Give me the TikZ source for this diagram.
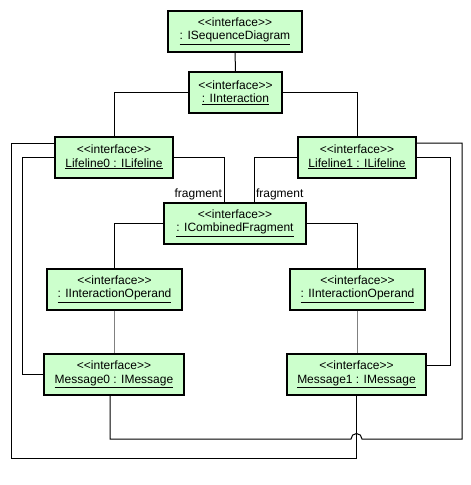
\documentclass[tikz,border=0pt]{standalone}
\usepackage{fontspec}
\setmainfont{Liberation Sans}
\usepackage{tikz}
\usetikzlibrary{positioning}
\definecolor{objgreen}{RGB}{204,255,204}
\definecolor{opgray}{RGB}{128,128,128}
\newcommand{\iface}[1]{<\kern0pt<interface>\kern0pt>\\\underline{#1}}

\begin{document}
\begin{tikzpicture}[
    x=1pt, y=-1pt,
    font=\fontsize{12}{13.5}\selectfont,
    objbox/.style={draw, line width=2pt, fill=objgreen, align=center, minimum height=41pt, inner sep=2pt},
    link/.style={draw, line width=1pt},
    oplink/.style={draw, line width=1pt, opgray},
    rolelabel/.style={inner sep=1.5pt}
]
\useasboundingbox (0,0) rectangle (471,485);
% objects
\node[objbox, minimum width=134pt] (sd) at (235,31) {\iface{: ISequenceDiagram}};
\node[objbox, minimum width=93pt] (inter) at (235.5,92.5) {\iface{: IInteraction}};
\node[objbox, minimum width=118pt] (ll0) at (114,157) {\iface{Lifeline0 : ILifeline}};
\node[objbox, minimum width=118pt] (ll1) at (357,157) {\iface{Lifeline1 : ILifeline}};
\node[objbox, minimum width=142pt] (cf) at (235,223) {\iface{: ICombinedFragment}};
\node[objbox, minimum width=135pt] (op0) at (114.5,289) {\iface{: IInteractionOperand}};
\node[objbox, minimum width=135pt] (op1) at (357.5,289) {\iface{: IInteractionOperand}};
\node[objbox, minimum width=140pt] (msg0) at (114,374.5) {\iface{Message0 : IMessage}};
\node[objbox, minimum width=139pt] (msg1) at (356.5,374.5) {\iface{Message1 : IMessage}};
% bends
\coordinate (outl) at (11,458);
\coordinate (outr) at (462,439);
\coordinate (hop) at (362,439);
\coordinate (m0drop) at (110,439);
% links
\draw[link] (sd) -- (inter);
\draw[link] (inter) -| (ll0);
\draw[link] (inter) -| (ll1);
\draw[link] (ll0) -| ([xshift=-11pt]cf.north) node[rolelabel, pos=1, anchor=south east] {fragment};
\draw[link] (ll1) -| ([xshift=19pt]cf.north) node[rolelabel, pos=1, anchor=south west] {fragment};
\draw[link] (ll0.west) -| ([xshift=-21pt]msg0.west) -- (msg0.west);
\draw[link] (ll1.east) -| ([xshift=23pt,yshift=9.5pt]msg1.east) -- ([yshift=9.5pt]msg1.east);
\draw[link] ([yshift=14pt]ll0.west) -| (outl) -| (msg1);
\draw[link] ([yshift=14pt]ll1.east) -| (outr) -- (hop)
    arc[start angle=0, end angle=180, radius=5.5pt] -- (m0drop) -- ([xshift=-4pt]msg0.south);
\draw[link] (cf) -| (op0);
\draw[link] (cf) -| (op1);
\draw[oplink] (op0.south) -- (op0.south |- msg0.north);
\draw[oplink] (op1.south) -- (op1.south |- msg1.north);
\end{tikzpicture}
\end{document}
